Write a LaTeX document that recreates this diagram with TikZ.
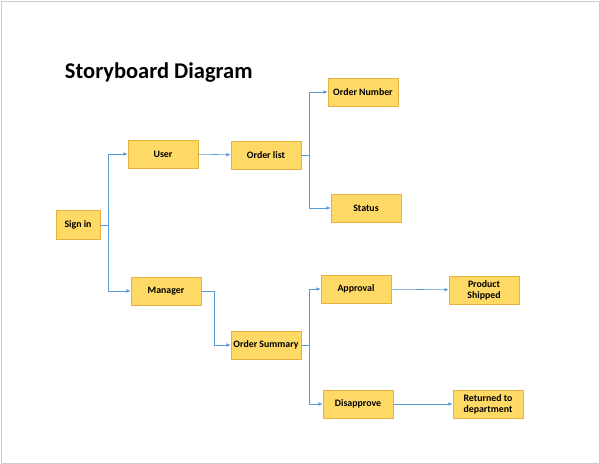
\documentclass[tikz,border=0pt]{standalone}
\usepackage{fontspec}
\setmainfont{Carlito}
\usetikzlibrary{arrows.meta,shadows}
\definecolor{boxfill}{HTML}{FFD966}
\definecolor{boxline}{HTML}{E8B040}
\definecolor{linkblue}{HTML}{5B9BD5}
\begin{document}
\begin{tikzpicture}[x=0.025cm, y=-0.025cm,
        storybox/.style={
            draw=boxline, fill=boxfill, minimum width=1.75cm, minimum height=0.7cm,
            font=\bfseries\fontsize{7}{8}\selectfont, align=center, inner sep=1pt,
            drop shadow={shadow xshift=0.4pt, shadow yshift=-0.6pt, opacity=0.35}
        },
        link/.style={
            draw=linkblue, -{Latex[length=3pt,width=2.5pt]}
        }
    ]
    \useasboundingbox (0,0) rectangle (600,464);
    \draw[gray!40] (1,1) rectangle (599,463);
    \node[anchor=west, font=\bfseries\fontsize{16}{18}\selectfont] (title) at (60,73) {Storyboard Diagram};

    \node[storybox, minimum width=1.1cm, minimum height=0.72cm] (signin) at (78,225) {Sign in};
    \node[storybox] (user) at (163,154) {User};
    \node[storybox] (orderlist) at (266,155) {Order list};
    \node[storybox] (ordernum) at (363,92) {Order Number};
    \node[storybox] (status) at (366,208) {Status};
    \node[storybox] (manager) at (166,291) {Manager};
    \node[storybox] (summary) at (266,345) {Order Summary};
    \node[storybox] (approval) at (356,289) {Approval};
    \node[storybox] (shipped) at (484,290) {Product\\Shipped};
    \node[storybox] (disapprove) at (358,404) {Disapprove};
    \node[storybox] (returned) at (488,404) {Returned to\\department};

    % joints
    \coordinate (j1) at (108,225);
    \coordinate (j2) at (309,155);
    \coordinate (j3) at (214,291);
    \coordinate (j4) at (309,345);

    % links
    \draw[linkblue] (signin.east) -- (j1);
    \draw[link] (j1) |- (user.west);
    \draw[link] (j1) |- (manager.west);
    \draw[link] (user) -- (orderlist);
    \draw[linkblue] (orderlist.east) -- (j2);
    \draw[link] (j2) |- (ordernum.west);
    \draw[link] (j2) |- (status.west);
    \draw[link] (manager.east) -| (j3) |- (summary.west);
    \draw[linkblue] (summary.east) -- (j4);
    \draw[link] (j4) |- (approval.west);
    \draw[link] (j4) |- (disapprove.west);
    \draw[link] (approval) -- (shipped);
    \draw[link] (disapprove) -- (returned);
\end{tikzpicture}
\end{document}
